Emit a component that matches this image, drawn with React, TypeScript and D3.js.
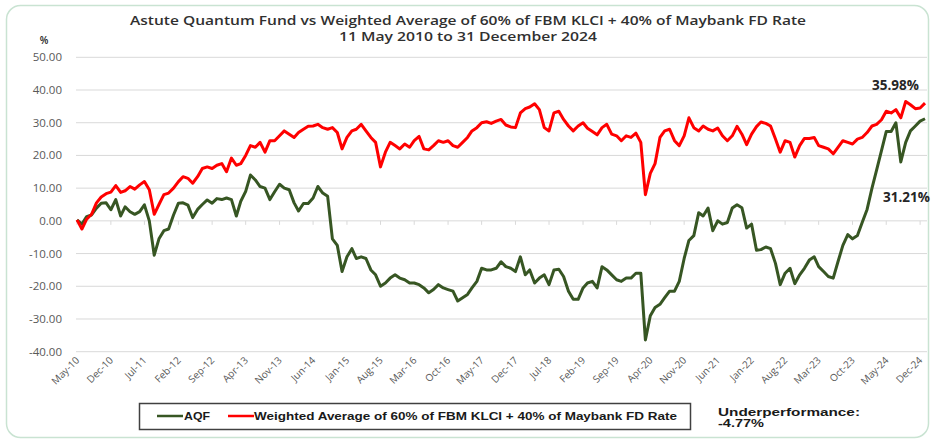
import React from "react";
import * as d3 from "d3";

const W = 936;
const H = 444;

const titleLines = [
  "Astute Quantum Fund vs Weighted Average of 60% of FBM KLCI + 40% of Maybank FD Rate",
  "11 May 2010 to 31 December 2024",
];
const seriesNames = ["AQF", "Weighted Average of 60% of FBM KLCI + 40% of Maybank FD Rate"];
const yTicks = [50, 40, 30, 20, 10, 0, -10, -20, -30, -40];

// monthly readings, first point May 2010, last point 31 Dec 2024
const aqf = [
  0.3, -1, 1.3, 1.8, 3.9, 5.4, 5.5, 3.4, 6.5, 1.5, 4.3, 2.8, 2, 2.8, 4.9, 0, -10.5, -5.5, -3, -2.5,
  1.8, 5.4, 5.5, 4.8, 1, 3.5, 5, 6.4, 5.4, 6.8, 6.5, 7, 6.5, 1.5, 6, 9, 14, 12.5, 10.5, 10,
  6.5, 8.9, 11.2, 10, 9.5, 5.5, 3, 5.3, 5.3, 7, 10.5, 8.5, 7.5, -5.5, -7.5, -15.5, -11, -8.5, -11.5, -11,
  -11.5, -15, -16.5, -20, -19, -17.5, -16.5, -17.5, -18, -19, -19, -19.5, -20.5, -22, -21, -19.5, -20.5, -21, -21.5, -24.5,
  -23.5, -22.5, -20.5, -18.5, -14.5, -15, -15, -14.5, -12.5, -14, -14.5, -15.5, -11, -16.5, -15, -19, -17.5, -16.5, -19.5, -15,
  -14.8, -17, -21.5, -24, -24, -20.5, -19, -18.5, -20.5, -14, -15, -16.5, -18, -18.5, -17.5, -17.5, -16, -16, -36.4, -29,
  -26.5, -25.5, -23.5, -21.5, -21.5, -18.5, -11.5, -6, -4.5, 2.5, 1.5, 3.9, -3, 0, -1, -0.5, 3.9, 4.9, 4, -2.2,
  -1, -9, -8.8, -8, -8.5, -13, -19.5, -16, -14.5, -19.2, -16.5, -14.5, -12, -11, -14, -15.5, -17, -17.5, -12.5, -7.5,
  -4.2, -5.5, -4.5, -0.5, 3.5, 10, 15.5, 21.5, 27.3, 27.3, 30, 18, 24, 27.5, 29, 30.5, 31.21,
];
const benchmark = [
  0.3, -2.5, 0.5, 2, 5.5, 7.3, 8.3, 8.8, 10.8, 8.7, 9.2, 10.5, 9.7, 11, 12, 9.5, 2, 5, 8, 8.5,
  10, 12, 13.5, 13, 11.5, 13.5, 16, 16.5, 16, 17, 17.5, 15, 19.2, 17, 17.5, 20, 23, 22.5, 24, 21,
  24.5, 24.5, 26, 27.5, 26.5, 25.5, 27, 28, 28.9, 29, 29.5, 28.5, 28, 28.5, 27, 22, 25.5, 27.5, 28, 29.5,
  27.5, 25.5, 24, 16.5, 21, 24, 23, 22, 23.5, 22.5, 24.5, 25.8, 22, 21.7, 23, 24.5, 24, 24.5, 23, 22.5,
  24, 25.5, 27.5, 28.5, 30, 30.3, 29.8, 30.5, 31, 29.3, 28.7, 28.5, 33, 34.3, 34.8, 35.8, 34, 28.5, 27.5, 33,
  33.5, 31, 29, 27.5, 29, 30, 28.3, 27.3, 26.3, 28.5, 29.5, 26.5, 26, 24.5, 26, 25.5, 26.8, 24, 8, 14.5,
  17.5, 25.5, 27.5, 28, 24.5, 23, 26, 31.5, 28.5, 27.5, 29, 28, 27.5, 28.4, 26, 24.5, 26, 28.9, 26.5, 23.3,
  26.5, 28.8, 30.2, 29.8, 29, 25, 21, 24.5, 24, 19.5, 23, 25.2, 25.2, 25.5, 23, 22.5, 22, 20.5, 22.5, 24.5,
  24, 23.5, 25, 25.5, 27, 29, 29.5, 30.9, 33.5, 33, 34, 31.5, 36.5, 35.5, 34.3, 34.5, 35.98,
];
const endLabels = ["35.98%", "31.21%"];
const underperformance = ["Underperformance:", "-4.77%"];

const startMonth = new Date(2010, 4, 1);
const endDate = new Date(2025, 0, 1);

export default function App() {
  const x = d3.scaleTime().domain([startMonth, endDate]).range([77, 925]);
  const y = d3.scaleLinear().domain([-40, 50]).range([351.7, 57.3]);
  const dates = aqf.map((_, i) => d3.timeMonth.offset(startMonth, i));
  const lineGen = d3
    .line<number>()
    .x((_, i) => x(dates[i]))
    .y((v) => y(v))
    .curve(d3.curveLinear);
  const xTicks = d3.range(0, 26).map((k) => d3.timeMonth.offset(startMonth, k * 7));
  const fmt = d3.timeFormat("%b-%y");
  const y0 = y(0);

  return (
    <svg
      width={W}
      height={H}
      style={{ position: "absolute", left: 0, top: 0, background: "#fff" }}
    >
      <rect x={6.5} y={5.5} width={922} height={432} rx={14} fill="#fff" stroke="#c9e3d2" strokeWidth={1.5} />
      <text x={468} y={24.5} textAnchor="middle" fontFamily="Open Sans" fontWeight={600} fontSize={12.5} fill="#303030" textLength={676} lengthAdjust="spacingAndGlyphs">
        {titleLines[0]}
      </text>
      <text x={468} y={40.5} textAnchor="middle" fontFamily="Open Sans" fontWeight={600} fontSize={12.5} fill="#303030" textLength={258} lengthAdjust="spacingAndGlyphs">
        {titleLines[1]}
      </text>
      <text x={44} y={44} textAnchor="middle" fontFamily="Open Sans" fontWeight={600} fontSize={10} fill="#262626">%</text>
      {yTicks.map((t) => (
        <g key={t}>
          <line x1={76} x2={927} y1={y(t)} y2={y(t)} stroke="#d9d9d9" strokeWidth={1} />
          <text x={62} y={y(t) + 4} textAnchor="end" fontFamily="Open Sans" fontSize={11.5} fill="#595959">
            {t.toFixed(2)}
          </text>
        </g>
      ))}
      {xTicks.map((d, i) => (
        <g key={i}>
          <line x1={x(d)} x2={x(d)} y1={y0} y2={y0 + 4} stroke="#d9d9d9" strokeWidth={1} />
          <text
            transform={`translate(${x(d) + 3},${361}) rotate(-45)`}
            textAnchor="end"
            fontFamily="Open Sans"
            fontSize={10}
            fill="#595959"
          >
            {fmt(d)}
          </text>
        </g>
      ))}
      <path d={lineGen(aqf) || ""} fill="none" stroke="#375623" strokeWidth={3} strokeLinejoin="round" />
      <path d={lineGen(benchmark) || ""} fill="none" stroke="#ff0000" strokeWidth={3} strokeLinejoin="round" />
      <text x={872} y={90} fontFamily="Open Sans" fontWeight={700} fontSize={13.5} fill="#262626">{endLabels[0]}</text>
      <text x={883} y={202} fontFamily="Open Sans" fontWeight={700} fontSize={13.5} fill="#262626">{endLabels[1]}</text>
      <rect x={139.5} y={403.5} width={551} height={26} fill="#fff" stroke="#404040" strokeWidth={1.5} />
      <line x1={157} x2={183} y1={416} y2={416} stroke="#375623" strokeWidth={2.5} />
      <text x={184} y={420} fontFamily="Liberation Sans" fontWeight={700} fontSize={11.5} fill="#1a1a1a" textLength={26} lengthAdjust="spacingAndGlyphs">{seriesNames[0]}</text>
      <line x1={228} x2={254} y1={416} y2={416} stroke="#ff0000" strokeWidth={2.5} />
      <text x={254} y={420} fontFamily="Liberation Sans" fontWeight={700} fontSize={11.5} fill="#1a1a1a" textLength={423} lengthAdjust="spacingAndGlyphs">{seriesNames[1]}</text>
      <text x={718} y={415.5} fontFamily="Liberation Sans" fontWeight={700} fontSize={10.5} fill="#1a1a1a" textLength={142} lengthAdjust="spacingAndGlyphs">{underperformance[0]}</text>
      <text x={718} y={426.5} fontFamily="Liberation Sans" fontWeight={700} fontSize={10.5} fill="#1a1a1a" textLength={46} lengthAdjust="spacingAndGlyphs">{underperformance[1]}</text>
    </svg>
  );
}
